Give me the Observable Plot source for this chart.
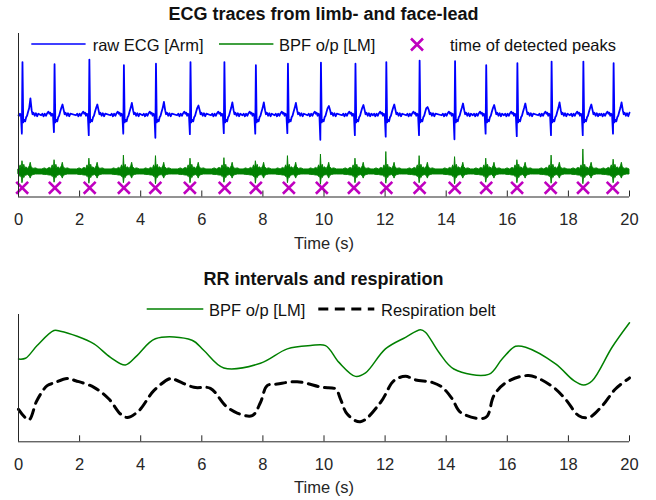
<!DOCTYPE html>
<html><head><meta charset="utf-8">
<script src="https://cdn.jsdelivr.net/npm/d3@7"></script>
<script src="https://cdn.jsdelivr.net/npm/@observablehq/plot@0.6"></script>
<style>
body{margin:0;background:#fff;}
#root{position:relative;width:656px;height:500px;font-family:"Liberation Sans",Arial,Helvetica,sans-serif;color:#262626;overflow:hidden;background:#fff}
.title{position:absolute;left:18px;width:611px;text-align:center;font-weight:bold;font-size:18px;line-height:18px;color:#111;white-space:nowrap}
.lt{position:absolute;font-size:16.5px;line-height:16.5px;white-space:nowrap;color:#111}
.sw{position:absolute;overflow:visible}
.panel{position:absolute;left:0}
</style></head>
<body>
<div id="root">
  <div class="title" style="top:4.8px">ECG traces from limb- and face-lead</div>
  <div class="title" style="top:269.8px">RR intervals and respiration</div>
  <svg class="sw" style="left:0;top:0" width="656" height="500" id="legsvg"></svg>
  <div class="lt" style="left:92.7px;top:37px">raw ECG [Arm]</div>
  <div class="lt" style="left:279px;top:37px">BPF o/p [LM]</div>
  <div class="lt" style="left:450px;top:37px">time of detected peaks</div>
  <div class="lt" style="left:209px;top:301.7px">BPF o/p [LM]</div>
  <div class="lt" style="left:381px;top:301.7px">Respiration belt</div>
</div>
<script>
// ---------- data ----------
const xTicks = [0, 2, 4, 6, 8, 10, 12, 14, 16, 18, 20];

// R-peak times (s) of the raw ECG and per-beat amplitudes (arbitrary units)
const peakTimes = [0.13, 1.18, 2.32, 3.45, 4.50, 5.63, 6.74, 7.77, 8.82, 9.90, 11.03, 12.04, 13.13, 14.29, 15.31, 16.33, 17.45, 18.49, 19.48];
const rAmp = [1.04, 1.00, 1.09, 0.98, 1.01, 1.04, 1.04, 0.98, 1.01, 1.03, 1.01, 1.04, 1.07, 1.06, 0.98, 1.02, 1.05, 1.05, 1.02];
const sAmp = [-0.36, -0.33, -0.39, -0.36, -0.44, -0.37, -0.35, -0.36, -0.35, -0.48, -0.39, -0.42, -0.39, -0.47, -0.36, -0.41, -0.39, -0.39, -0.36];
const tAmp = [0.33, 0.21, 0.21, 0.24, 0.26, 0.19, 0.25, 0.25, 0.24, 0.18, 0.20, 0.21, 0.16, 0.23, 0.20, 0.23, 0.25, 0.21, 0.25];
// beat shape around each R peak (offsets in s, values; "S","R","T" take per-beat values)
const beatDt = [-0.44, -0.40, -0.36, -0.32, -0.28, -0.24, -0.20, -0.17, -0.14, -0.11, -0.08, -0.05, -0.02, 0, 0.025, 0.06, 0.09, 0.12, 0.15, 0.18, 0.22, 0.26, 0.30, 0.33, 0.36, 0.40, 0.44, 0.48, 0.52];
const beatV  = [0.00, 0.03, -0.02, 0.03, -0.01, 0.04, 0.07, 0.03, 0.05, -0.01, 0.03, 0.00, "S", "R", -0.14, -0.09, -0.12, -0.04, -0.01, 0.06, 0.14, "T", 0.10, 0.02, 0.05, -0.01, 0.04, -0.02, 0.03];
const ecgStart = 0.0, ecgEnd = 0.05;

// band-pass filtered lead: baseline, per-beat spike extremes, burst envelope around each beat
const bpfBase = -1.11;
const bpfUp   = [-0.90, -0.88, -0.85, -0.79, -0.80, -0.85, -0.84, -0.90, -0.80, -0.77, -0.85, -0.72, -0.80, -0.82, -0.85, -0.88, -0.79, -0.67, -0.87];
const bpfDown = [-1.33, -1.32, -1.34, -1.33, -1.35, -1.33, -1.32, -1.34, -1.33, -1.36, -1.33, -1.34, -1.33, -1.35, -1.32, -1.33, -1.34, -1.35, -1.33];
const burstDt   = [-0.40, -0.32, -0.24, -0.16, -0.10, -0.06, -0.035, -0.015, 0, 0.015, 0.035, 0.06, 0.09, 0.13, 0.19, 0.24, 0.27, 0.30, 0.36, 0.44, 0.52];
const burstUp   = [0.05, 0.07, 0.05, 0.08, 0.06, 0.13, 0.07, 0.12, "P", 0.15, 0.08, 0.14, 0.07, 0.09, 0.06, 0.11, 0.18, 0.09, 0.06, 0.07, 0.05];
const burstDown = [0.05, 0.06, 0.06, 0.07, 0.07, 0.10, 0.08, 0.13, "P", 0.16, 0.09, 0.12, 0.08, 0.07, 0.06, 0.09, 0.13, 0.08, 0.06, 0.05, 0.05];
const bandEdge = 0.05;

// detected peak times (crosses) and their plotting level
const detectedPeaks = [0.12, 1.19, 2.33, 3.45, 4.48, 5.61, 6.75, 7.77, 8.85, 9.93, 10.98, 12.04, 13.13, 14.28, 15.31, 16.32, 17.42, 18.48, 19.45];
const crossLevel = -1.42;

// lower panel: RR-interval curve (BPF) and respiration belt (normalised units)
const rrT = [0, 0.23, 0.61, 1.16, 1.37, 1.92, 2.47, 3.01, 3.50, 3.88, 4.48, 5.68, 6.07, 6.72, 7.92, 8.80, 9.56, 10.05, 10.49, 11.03, 11.36, 12.01, 12.67, 13.16, 13.32, 13.76, 14.25, 15.39, 15.83, 16.27, 16.60, 17.58, 18.18, 18.50, 18.78, 19.43, 20];
const rrV = [0.650, 0.656, 0.756, 0.874, 0.869, 0.829, 0.769, 0.664, 0.604, 0.677, 0.809, 0.798, 0.717, 0.580, 0.617, 0.730, 0.756, 0.756, 0.624, 0.514, 0.541, 0.730, 0.821, 0.880, 0.861, 0.703, 0.572, 0.530, 0.651, 0.750, 0.743, 0.612, 0.480, 0.446, 0.480, 0.743, 0.935];
const respT = [0, 0.34, 0.60, 0.94, 1.16, 1.59, 1.87, 2.47, 2.96, 3.34, 3.56, 3.94, 4.43, 4.98, 5.13, 5.74, 6.28, 6.78, 7.16, 7.65, 7.92, 8.14, 8.47, 9.12, 9.94, 10.38, 10.54, 10.76, 11.19, 11.85, 12.29, 12.67, 13.00, 13.54, 13.87, 14.20, 14.47, 15.29, 15.56, 15.94, 16.70, 17.47, 17.90, 18.34, 18.67, 19.11, 19.54, 20];
const respV = [0.255, 0.173, 0.323, 0.441, 0.462, 0.498, 0.480, 0.428, 0.336, 0.218, 0.191, 0.244, 0.402, 0.498, 0.488, 0.428, 0.420, 0.283, 0.226, 0.205, 0.309, 0.441, 0.454, 0.472, 0.428, 0.415, 0.336, 0.218, 0.157, 0.309, 0.480, 0.514, 0.486, 0.467, 0.428, 0.336, 0.231, 0.191, 0.362, 0.462, 0.520, 0.435, 0.336, 0.205, 0.191, 0.283, 0.415, 0.502];

// ---------- build tables ----------
const ecg = [{t: 0, v: ecgStart}];
peakTimes.forEach((tp, i) => {
  beatDt.forEach((dt, j) => {
    let v = beatV[j];
    if (v === "S") v = sAmp[i]; else if (v === "R") v = rAmp[i]; else if (v === "T") v = tAmp[i];
    const t = tp + dt;
    if (t > 0 && t < 20) ecg.push({t, v});
  });
});
ecg.push({t: 20, v: ecgEnd});
ecg.sort((a, b) => a.t - b.t);

const bpf = [{t: 0, lo: bpfBase - bandEdge, hi: bpfBase + bandEdge}];
peakTimes.forEach((tp, i) => {
  burstDt.forEach((dt, j) => {
    const t = tp + dt;
    if (t <= 0 || t >= 20) return;
    const hi = burstUp[j] === "P" ? bpfUp[i] : bpfBase + burstUp[j];
    const lo = burstDown[j] === "P" ? bpfDown[i] : bpfBase - burstDown[j];
    bpf.push({t, lo, hi});
  });
});
bpf.push({t: 20, lo: bpfBase - bandEdge, hi: bpfBase + bandEdge});
bpf.sort((a, b) => a.t - b.t);

const rr = rrT.map((t, i) => ({t, v: rrV[i]}));
const resp = respT.map((t, i) => ({t, v: respV[i]}));

const axisColor = "#262626";
const plotStyle = {fontFamily: "'Liberation Sans', Arial, Helvetica, sans-serif", fontSize: "16.5px", color: axisColor, background: "transparent", overflow: "visible"};

function axes(yMin) {
  return [
    Plot.ruleX([0], {stroke: axisColor, strokeWidth: 1}),
    Plot.ruleY([yMin], {stroke: axisColor, strokeWidth: 1}),
    Plot.axisX(xTicks, {tickSize: 6, dy: -6, fill: "none", stroke: axisColor, label: null}),
    Plot.axisX(xTicks, {tickSize: 0, tickPadding: 16, fill: axisColor, label: null, tickFormat: d => String(d)}),
    Plot.text(["Time (s)"], {text: d => d, frameAnchor: "bottom", lineAnchor: "bottom", dy: 51.5, fill: axisColor, fontSize: 16.5})
  ];
}

const root = document.getElementById("root");

// ---------- top panel ----------
const topPanel = Plot.plot({
  width: 656, height: 250,
  marginTop: 33, marginBottom: 53.5, marginLeft: 18, marginRight: 27,
  style: plotStyle,
  x: {domain: [0, 20], label: null},
  y: {domain: [-1.6, 1.6], axis: null, label: null},
  marks: [
    Plot.areaY(bpf, {x: "t", y1: "lo", y2: "hi", fill: "#008000", stroke: "#008000", strokeWidth: 0.9, curve: "linear"}),
    Plot.lineY(ecg, {x: "t", y: "v", stroke: "#0000ff", strokeWidth: 1.8, curve: "linear"}),
    Plot.dot(detectedPeaks, {x: d => d, y: () => crossLevel, symbol: "times", r: 5.5, stroke: "#bf00bf", strokeWidth: 2.6}),
    ...axes(-1.6)
  ]
});
topPanel.classList.add("panel");
topPanel.style.top = "0px";
topPanel.style.position = "absolute";
root.appendChild(topPanel);

// ---------- bottom panel ----------
const bottomPanel = Plot.plot({
  width: 656, height: 250,
  marginTop: 64, marginBottom: 58.7, marginLeft: 18, marginRight: 27,
  style: plotStyle,
  x: {domain: [0, 20], label: null},
  y: {domain: [0, 1], axis: null, label: null},
  marks: [
    Plot.lineY(rr, {x: "t", y: "v", stroke: "#008000", strokeWidth: 1.5, curve: "catmull-rom"}),
    Plot.lineY(resp, {x: "t", y: "v", stroke: "#000", strokeWidth: 3, strokeDasharray: "10,6.5", curve: "catmull-rom"}),
    ...axes(0)
  ]
});
bottomPanel.classList.add("panel");
bottomPanel.style.top = "250px";
bottomPanel.style.position = "absolute";
root.appendChild(bottomPanel);

// ---------- legend swatches ----------
const leg = d3.select("#legsvg");
leg.append("line").attr("x1", 31.3).attr("x2", 85.6).attr("y1", 44).attr("y2", 44).attr("stroke", "#0000ff").attr("stroke-width", 1.5);
leg.append("line").attr("x1", 219).attr("x2", 273.4).attr("y1", 44).attr("y2", 44).attr("stroke", "#008000").attr("stroke-width", 1.5);
leg.append("path").attr("d", "M411,38.5L423,50.5M411,50.5L423,38.5").attr("stroke", "#bf00bf").attr("stroke-width", 2.6).attr("fill", "none");
leg.append("line").attr("x1", 146.7).attr("x2", 203.3).attr("y1", 309).attr("y2", 309).attr("stroke", "#008000").attr("stroke-width", 1.5);
leg.append("line").attr("x1", 318.3).attr("x2", 374.3).attr("y1", 309).attr("y2", 309).attr("stroke", "#000").attr("stroke-width", 3).attr("stroke-dasharray", "10,6.5");
root.appendChild(document.getElementById("legsvg"));
</script>
</body></html>
